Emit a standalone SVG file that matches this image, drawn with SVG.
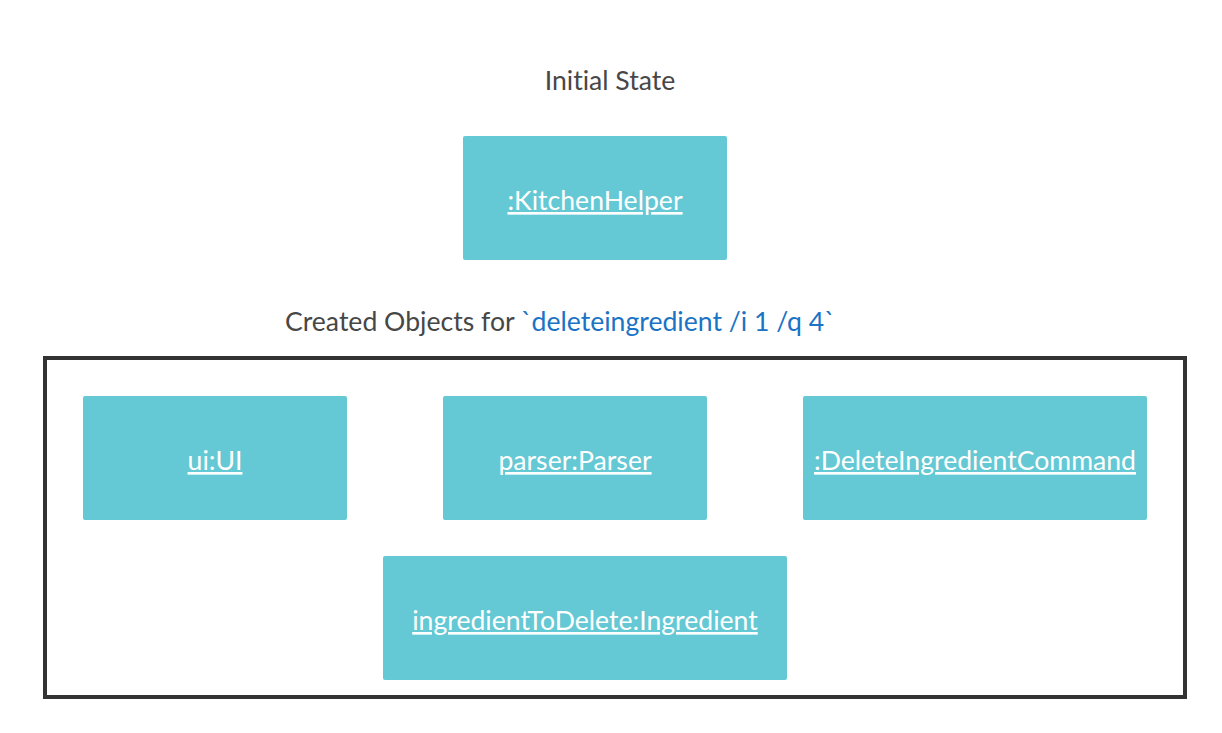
<svg xmlns="http://www.w3.org/2000/svg" width="1222" height="733" viewBox="0 0 1222 733">
<style>
text{font-variant-ligatures:none;}
.box{fill:#64c9d4;}
.lbl{font-family:Lato,"Noto Sans",sans-serif;font-size:26.6px;fill:#ffffff;text-anchor:middle;text-decoration:underline;}
.title{font-family:Lato,"Noto Sans",sans-serif;font-size:26.6px;fill:#474747;}
.code{fill:#1a73c4;}
</style>
<rect width="1222" height="733" fill="#ffffff"/>
<text class="title" x="610" y="90" text-anchor="middle">Initial State</text>
<g id="kitchenHelper">
<rect class="box" x="463" y="136" width="264" height="124" rx="2"/>
<text class="lbl" x="595" y="210">:KitchenHelper</text>
</g>
<text class="title" x="285" y="331">Created Objects for <tspan class="code">`deleteingredient /i 1 /q 4`</tspan></text>
<g id="frame">
<rect x="45" y="358" width="1140" height="339" fill="none" stroke="#333333" stroke-width="4"/>
</g>
<g id="ui">
<rect class="box" x="83" y="396" width="264" height="124" rx="2"/>
<text class="lbl" x="215" y="470">ui:UI</text>
</g>
<g id="parser">
<rect class="box" x="443" y="396" width="264" height="124" rx="2"/>
<text class="lbl" x="575" y="470">parser:Parser</text>
</g>
<g id="deleteCommand">
<rect class="box" x="803" y="396" width="344" height="124" rx="2"/>
<text class="lbl" x="975" y="470">:DeleteIngredientCommand</text>
</g>
<g id="ingredient">
<rect class="box" x="383" y="556" width="404" height="124" rx="2"/>
<text class="lbl" x="585" y="630">ingredientToDelete:Ingredient</text>
</g>
<g id="connectors"></g>
</svg>
